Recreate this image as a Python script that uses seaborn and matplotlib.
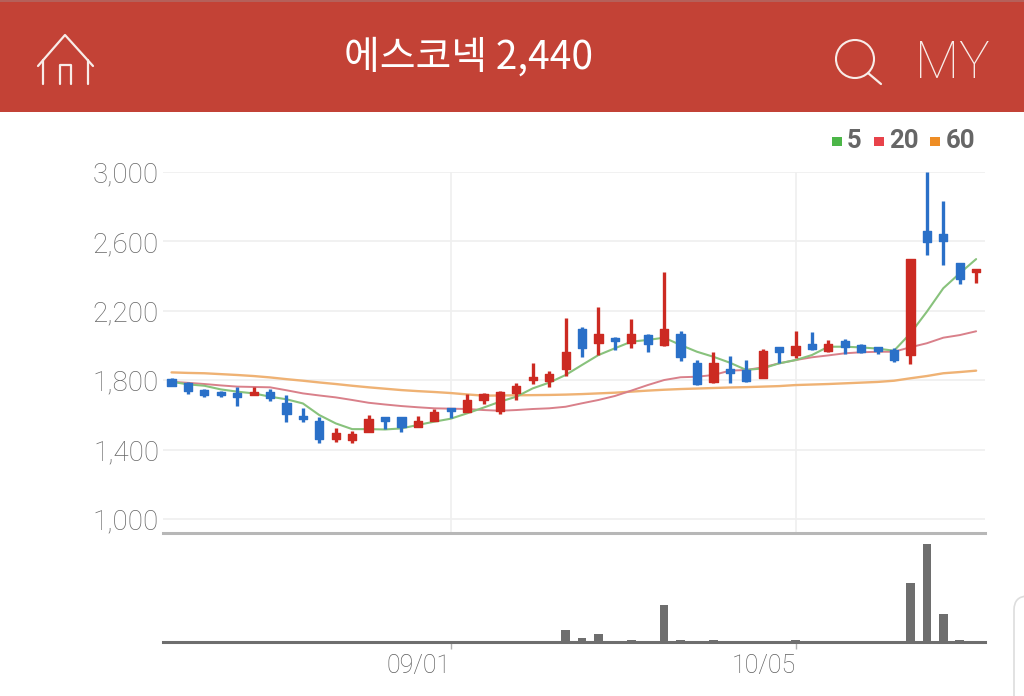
import numpy as np
import pandas as pd
import matplotlib
matplotlib.use("Agg")
import matplotlib.pyplot as plt
from matplotlib.patches import Rectangle, FancyBboxPatch, Circle
import seaborn as sns

# ---------- data ----------
date_labels = ["09/01", "10/05"]
date_positions = [17, 38]
price_ticks = [1000, 1400, 1800, 2200, 2600, 3000]

highs = [1815,1790,1750,1735,1760,1762,1750,1715,1640,1590,1525,1507,1600,1590,1590,1592,1632,1638,
         1718,1728,1738,1782,1900,1855,2158,2108,2224,2050,2150,2066,2425,2084,1916,1964,
         1941,1916,1982,1993,2084,2076,2032,2039,2007,1989,1984,2500,3000,2833,2474,2441]
opens = [1805,1782,1743,1732,1724,1713,1734,1667,1593,1565,1459,1453,1503,1590,1590,1528,1565,1638,
         1619,1686,1624,1728,1803,1795,1863,2093,2012,2043,2012,2062,2001,2066,1901,1790,
         1866,1859,1813,1989,1943,2009,1966,2028,2003,1989,1974,1947,2658,2643,2474,2426]
closes = [1765,1738,1713,1713,1705,1734,1695,1605,1578,1459,1494,1492,1574,1563,1528,1567,1615,1622,
          1684,1718,1732,1767,1818,1834,1964,1988,2066,2028,2066,2007,2097,1936,1778,1897,
          1840,1795,1966,1962,1997,1982,2009,1993,1962,1966,1916,2499,2598,2604,2385,2441]
lows = [1765,1718,1701,1701,1653,1713,1678,1561,1561,1436,1444,1436,1503,1517,1503,1528,1565,1580,
        1619,1661,1603,1686,1778,1761,1824,1936,1945,1974,1986,1962,1997,1911,1770,1786,
        1786,1788,1813,1897,1928,1974,1962,1951,1955,1953,1903,1895,2520,2462,2353,2360]

ma5 = [1791,1776,1768,1747,1734,1724,1705,1690,1666,1599,1551,1518,1518,1516,1522,1542,1561,1578,
       1609,1642,1676,1705,1753,1786,1830,1888,1945,1984,2022,2032,2045,2003,1964,1935,
       1901,1859,1868,1897,1916,1945,1993,1993,1989,1982,1970,2070,2195,2330,2416,2498]
ma20 = [1791,1785,1778,1770,1763,1761,1759,1742,1724,1712,1701,1686,1670,1660,1651,1644,1638,1636,
        1634,1628,1624,1628,1634,1638,1647,1667,1686,1709,1740,1772,1801,1817,1820,1830,
        1855,1859,1874,1897,1916,1932,1943,1955,1961,1964,1964,1990,2013,2045,2060,2082]
ma60 = [1845,1842,1840,1835,1830,1824,1816,1806,1797,1787,1778,1768,1759,1751,1743,1737,1732,1726,
        1718,1711,1712,1713,1714,1715,1717,1720,1724,1728,1734,1740,1745,1749,1752,1755,
        1758,1760,1763,1766,1772,1775,1778,1782,1786,1790,1797,1811,1824,1840,1847,1855]

volume = [0.4]*50
for _i, _v in {24:12, 25:3.5, 26:8, 28:2, 30:37, 31:2, 33:2, 38:2, 45:59, 46:98, 47:28, 48:2}.items():
    volume[_i] = _v

legend_labels = ["5", "20", "60"]
title_text = "에스코넥 2,440"

# ---------- style ----------
sns.set_theme(style="white")
plt.rcParams["font.family"] = ["Noto Sans CJK KR", "DejaVu Sans"]

W, H = 1024, 696
RED, BLUE = "#cc2a22", "#2a70c8"
fig = plt.figure(figsize=(W/100, H/100), dpi=100, facecolor="white")

def px_axes(l, t, r, b, **kw):
    return fig.add_axes([l/W, 1-b/H, (r-l)/W, (b-t)/H], **kw)

df = pd.DataFrame(dict(idx=np.arange(50), high=highs, open=opens, close=closes, low=lows,
                       ma5=ma5, ma20=ma20, ma60=ma60, volume=volume))
XL = (-0.52, 49.54)

# ---------- price panel ----------
ax = px_axes(163, 172, 985, 533)
ax.set_facecolor("none")
sns.lineplot(data=df, x="idx", y="ma60", color="#efb274", lw=1.7, ax=ax, zorder=2)
sns.lineplot(data=df, x="idx", y="ma20", color="#d9808a", lw=1.4, ax=ax, zorder=2)
sns.lineplot(data=df, x="idx", y="ma5", color="#88c27c", lw=1.5, ax=ax, zorder=2)
up = df["close"] >= df["open"]
cols = np.where(up, RED, BLUE)
ax.vlines(df["idx"], df["low"], df["high"], colors=cols, lw=2.4, zorder=3)
ax.bar(df["idx"], (df["close"]-df["open"]).abs(), bottom=df[["open", "close"]].min(axis=1),
       width=0.5, color=cols, edgecolor=cols, zorder=4, linewidth=1.0, joinstyle="round")
ax.set_xlim(*XL)
ax.set_ylim(3000-(533-172)*400/69.4, 3000)
ax.set_yticks(price_ticks)
ax.set_yticklabels([f"{v:,}" for v in price_ticks], family="Roboto", fontweight="light",
                   fontsize=20, color="#666666")
ax.set_xticks(date_positions)
ax.set_xticklabels([])
ax.set_xlabel(""); ax.set_ylabel("")
ax.grid(True, color="#efefef", lw=1.2)
ax.set_axisbelow(True)
ax.tick_params(left=False, bottom=False, axis="y", pad=-3.2)
ax.tick_params(bottom=False, axis="x")
for s in ax.spines.values():
    s.set_visible(False)

# ---------- volume panel ----------
vx = px_axes(163, 533, 985, 641.5)
vx.set_facecolor("none")
sns.barplot(data=df, x="idx", y="volume", native_scale=True, color="#6e6e6e", saturation=1,
            width=0.52, ax=vx, linewidth=0, zorder=3)
vx.set_xlim(*XL)
vx.set_ylim(0, 108.5)
vx.set_yticks([])
vx.set_xticks(date_positions)
vx.set_xticklabels(date_labels, family="Roboto", fontweight="light", fontsize=18, color="#5e5e5e", ha="right")
vx.tick_params(bottom=True, length=5, width=1, color="#b0b0b0", pad=4)
vx.set_xlabel(""); vx.set_ylabel("")
for s in ("left", "right"):
    vx.spines[s].set_visible(False)
vx.spines["top"].set_color("#b7b7b7"); vx.spines["top"].set_linewidth(2.2)
vx.spines["bottom"].set_color("#6e6e6e"); vx.spines["bottom"].set_linewidth(2.2)

# ---------- page chrome (header, icons, legend) ----------
ov = fig.add_axes([0, 0, 1, 1], zorder=10)
ov.set_xlim(0, W); ov.set_ylim(H, 0); ov.axis("off"); ov.patch.set_alpha(0)
ov.add_patch(Rectangle((0, 0), W, 112, color="#c34236", lw=0))
ov.add_patch(Rectangle((0, 0), W, 2, color="#b5605a", lw=0))
ov.text(468.5, 57.5, title_text, color="white", fontsize=28, ha="center", va="center",
        family=["Noto Sans CJK KR", "DejaVu Sans"], fontweight="medium")
w = dict(color="#f8ece8", lw=1.6, solid_capstyle="round", solid_joinstyle="round")
ov.plot([38, 65, 93], [66, 35, 66], **w)
ov.plot([43, 43], [60, 84], **w); ov.plot([88, 88], [60, 84], **w)
ov.plot([60, 60, 71, 71], [84, 65, 65, 84], **w)
ov.add_patch(Circle((855, 59), 19, fill=False, ec="#f8ece8", lw=1.5))
ov.plot([868, 881], [73, 84], **w)
ov.text(952.5, 63.5, "MY", color="#f8ece8", fontsize=37, ha="center", va="center",
        family="Roboto", fontweight="light")

for lab, col, sx, tx in zip(legend_labels, ["#4cb648", "#e8424a", "#ee8d25"], [832, 874, 930], [847, 889, 946]):
    ov.add_patch(Rectangle((sx, 137), 10, 9, color=col, lw=0))
    ov.text(tx, 141, lab, color="#666666", fontsize=18.5, fontweight="bold",
            family="Roboto", ha="left", va="center")

ov.add_patch(FancyBboxPatch((1022, 604), 60, 120, boxstyle="round,pad=8,rounding_size=14",
                            fc="white", ec="#dddddd", lw=1.2))

fig.savefig("out.png", dpi=100)
